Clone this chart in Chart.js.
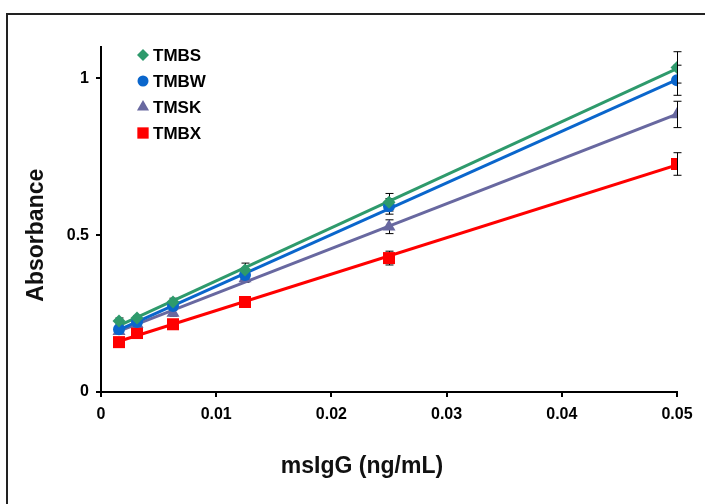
<!DOCTYPE html>
<html>
<head>
<meta charset="utf-8">
<script src="https://cdn.jsdelivr.net/npm/chart.js@4/dist/chart.umd.min.js"></script>
<style>
  body { margin: 0; background: #fff; }
  canvas { display: block; }
</style>
</head>
<body>
<canvas id="myChart" width="705" height="504"></canvas>
<script>
// concentrations (ng/mL)
const xVals = [0.0015625, 0.003125, 0.00625, 0.0125, 0.025, 0.05];

// absorbance means per substrate
const tmbs = [0.226, 0.236, 0.287, 0.389, 0.605, 1.035];
const tmbw = [0.200, 0.223, 0.274, 0.373, 0.592, 0.994];
const tmsk = [0.194, 0.217, 0.252, 0.362, 0.527, 0.885];
const tmbx = [0.159, 0.188, 0.216, 0.287, 0.427, 0.727];

// standard deviations
const tmbsErr = [0.010, 0.008, 0.012, 0.022, 0.028, 0.050];
const tmbwErr = [0.012, 0.008, 0.010, 0.012, 0.025, 0.048];
const tmskErr = [0.010, 0.008, 0.010, 0.012, 0.022, 0.042];
const tmbxErr = [0.006, 0.006, 0.008, 0.008, 0.022, 0.036];

const names = ['TMBS', 'TMBW', 'TMSK', 'TMBX'];
const colors = ['#2e9a6c', '#0a66cc', '#6868a0', '#ff0000'];
const styles = ['rectRot', 'circle', 'triangle', 'rect'];
const radii = [6.5, 6, 7.5, 8.5];

const xTicks = [0, 0.01, 0.02, 0.03, 0.04, 0.05];
const yTicks = [0, 0.5, 1];
const xTitle = 'msIgG (ng/mL)';
const yTitle = 'Absorbance';

const FONT = "'Liberation Sans', Arial, sans-serif";

let allY = [tmbs, tmbw, tmsk, tmbx];
let allErr = [tmbsErr, tmbwErr, tmskErr, tmbxErr];

// least squares trend line, like the spreadsheet one
function fitLine(xs, ys) {
    let n = xs.length, sx = 0, sy = 0, sxx = 0, sxy = 0;
    for (let i = 0; i < n; i++) {
        sx += xs[i]; sy += ys[i];
        sxx += xs[i] * xs[i]; sxy += xs[i] * ys[i];
    }
    let m = (n * sxy - sx * sy) / (n * sxx - sx * sx);
    let b = (sy - m * sx) / n;
    let x0 = xs[0], x1 = xs[n - 1];
    return [{x: x0, y: m * x0 + b}, {x: x1, y: m * x1 + b}];
}

let datasets = [];
allY.forEach((ys, k) => {
    datasets.push({
        label: names[k],
        data: xVals.map((x, i) => ({x: x, y: ys[i]})),
        showLine: false,
        pointStyle: styles[k],
        pointRadius: radii[k],
        pointBackgroundColor: colors[k],
        pointBorderColor: colors[k],
        pointBorderWidth: 0,
        order: 0
    });
    datasets.push({
        label: names[k] + ' fit',
        data: fitLine(xVals, ys),
        showLine: true,
        borderColor: colors[k],
        borderWidth: 3,
        pointRadius: 0,
        order: 1
    });
});

const errorBars = {
    id: 'errorBars',
    beforeDatasetsDraw(chart) {
        let c = chart.ctx, xs = chart.scales.x, ys = chart.scales.y;
        c.save();
        c.strokeStyle = '#000';
        c.lineWidth = 1;
        allY.forEach((vals, k) => {
            vals.forEach((v, i) => {
                let px = Math.round(xs.getPixelForValue(xVals[i])) + 0.5;
                let top = ys.getPixelForValue(v + allErr[k][i]);
                let bot = ys.getPixelForValue(v - allErr[k][i]);
                c.beginPath();
                c.moveTo(px, top); c.lineTo(px, bot);
                c.moveTo(px - 4, top); c.lineTo(px + 4, top);
                c.moveTo(px - 4, bot); c.lineTo(px + 4, bot);
                c.stroke();
            });
        });
        c.restore();
    }
};

const frameAndLegend = {
    id: 'frameAndLegend',
    beforeDraw(chart) {
        let c = chart.ctx;
        c.save();
        c.fillStyle = '#fff';
        c.fillRect(0, 0, chart.width, chart.height);
        c.strokeStyle = '#222';
        c.lineWidth = 2;
        c.beginPath();
        c.moveTo(7, chart.height);
        c.lineTo(7, 14);
        c.lineTo(chart.width, 14);
        c.stroke();
        c.restore();
    },
    afterDraw(chart) {
        let c = chart.ctx;
        c.save();
        // legend
        c.font = 'bold 17px ' + FONT;
        c.textBaseline = 'middle';
        names.forEach((n, k) => {
            let y = 55 + k * 26;
            c.fillStyle = colors[k];
            c.strokeStyle = colors[k];
            Chart.helpers.drawPoint(c, {pointStyle: styles[k], radius: radii[k] - 0.5, borderWidth: 0, rotation: 0}, 143, y);
            c.fillStyle = '#000';
            c.fillText(n, 153, y + 1);
        });
        // axis titles (not centred on the plot in the original)
        c.fillStyle = '#111';
        c.font = 'bold 23px ' + FONT;
        c.textAlign = 'center';
        c.fillText(xTitle, 362, 467);
        c.translate(37, chart.scales.y.getPixelForValue(0.5));
        c.rotate(-Math.PI / 2);
        c.fillText(yTitle, 0, 0);
        c.restore();
    }
};

new Chart(document.getElementById('myChart'), {
    type: 'scatter',
    data: {datasets: datasets},
    options: {
        responsive: false,
        animation: false,
        layout: {padding: {left: 23, top: 47, right: 28, bottom: 23}},
        plugins: {legend: {display: false}, tooltip: {enabled: false}},
        scales: {
            x: {
                type: 'linear',
                min: 0,
                max: 0.05,
                afterFit: s => { s.height = 89; },
                afterBuildTicks: s => { s.ticks = xTicks.map(v => ({value: v})); },
                ticks: {
                    color: '#000',
                    padding: 8,
                    font: {family: FONT, size: 16, weight: 'bold'},
                    callback: v => String(v)
                },
                grid: {drawOnChartArea: false, drawTicks: true, tickLength: 5, color: '#000', lineWidth: 2},
                border: {color: '#000', width: 2}
            },
            y: {
                min: 0,
                max: 1.1,
                afterFit: s => { s.width = 78; },
                afterBuildTicks: s => { s.ticks = yTicks.map(v => ({value: v})); },
                ticks: {
                    color: '#000',
                    padding: 7,
                    font: {family: FONT, size: 16, weight: 'bold'},
                    callback: v => String(v)
                },
                grid: {drawOnChartArea: false, drawTicks: true, tickLength: 5, color: '#000', lineWidth: 2},
                border: {color: '#000', width: 2}
            }
        }
    },
    plugins: [frameAndLegend, errorBars]
});
</script>
</body>
</html>
